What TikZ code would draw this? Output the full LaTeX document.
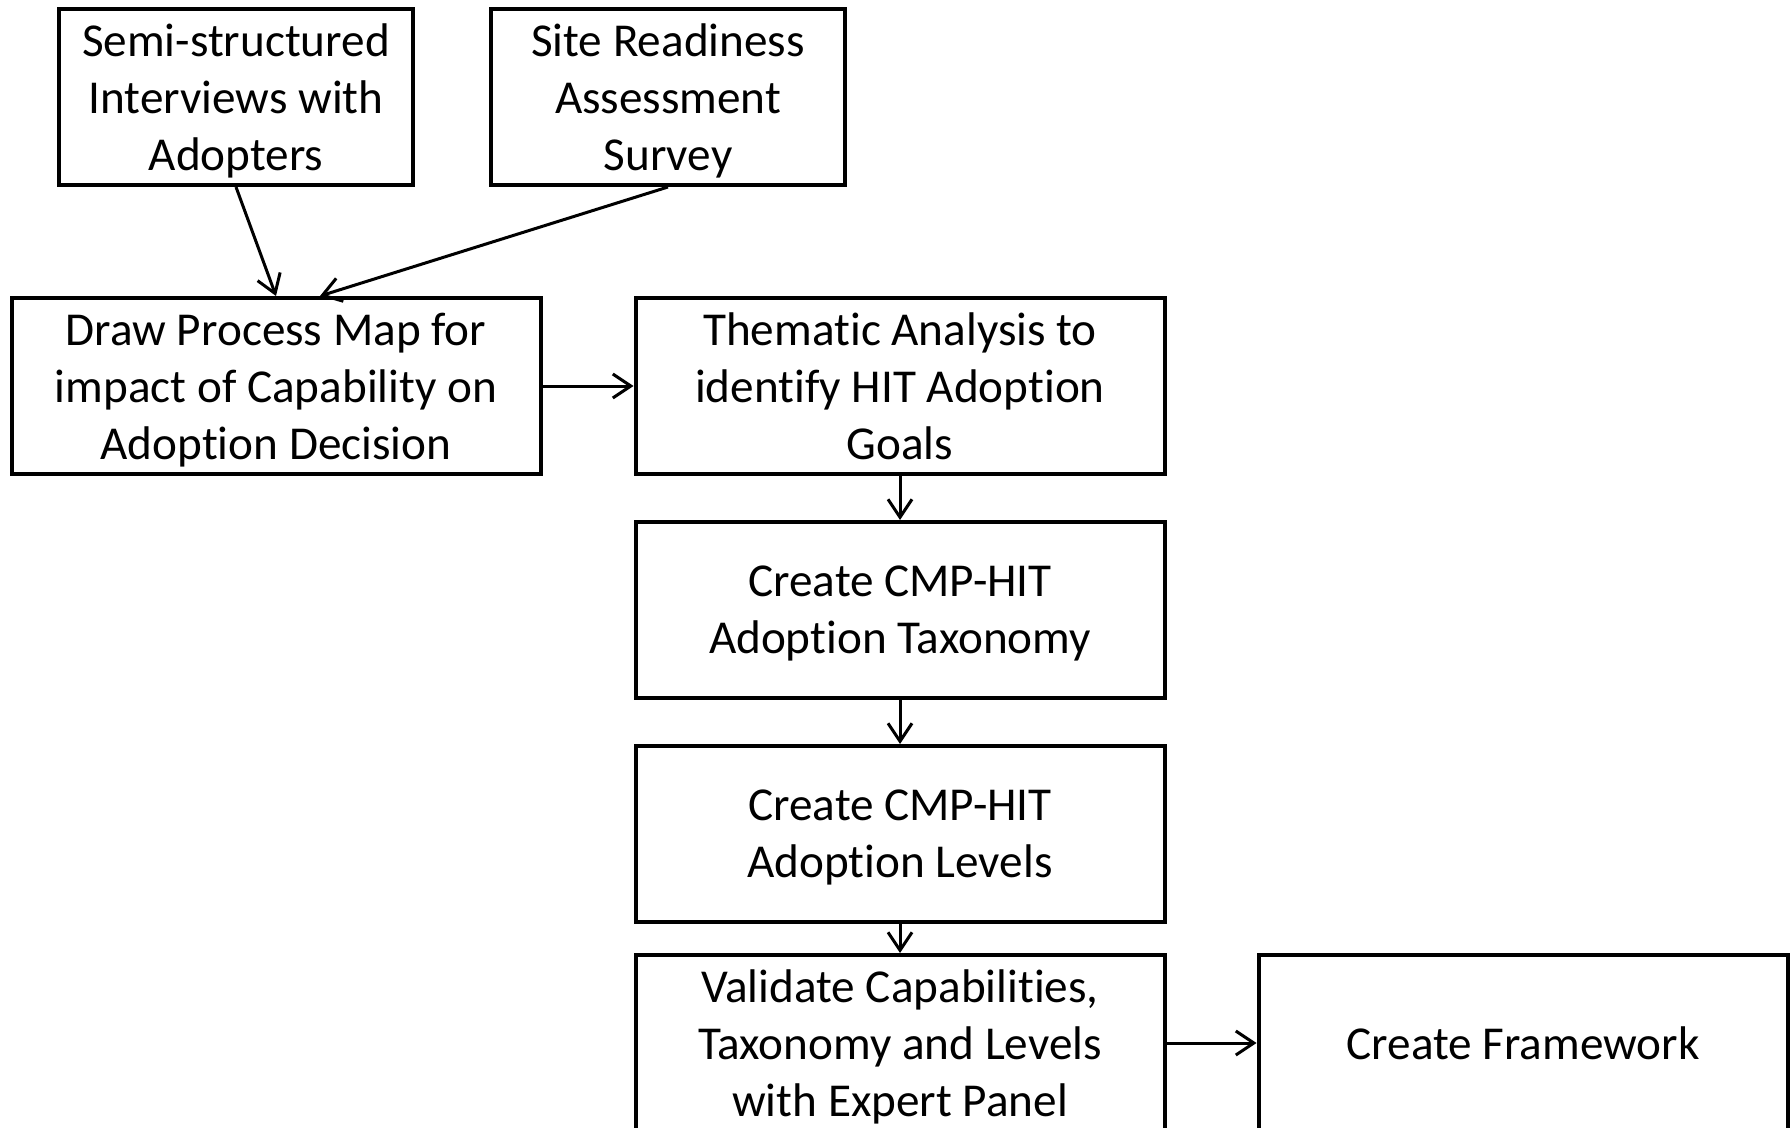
\documentclass[tikz,border=0pt]{standalone}
\usepackage{fontspec}
\setmainfont{Carlito}[Ligatures=NoCommon]
\usetikzlibrary{arrows.meta}
\tikzset{stage/.style={draw=black,line width=2pt,minimum height=88pt,inner sep=0pt,align=center,
  text depth=0pt,font=\fontsize{23.6}{28.5}\selectfont},
 small/.style={stage,minimum width=177pt},
 wide/.style={stage,minimum width=264.5pt},
 arrow/.style={-{Straight Barb[length=9pt,width=12pt,line width=1.5pt]},line width=1.5pt}}

\begin{document}
\begin{tikzpicture}[x=0.5pt,y=-0.5pt]
 \useasboundingbox (0,0) rectangle (1791,1128);
 \node[small] (interviews) at (236,97) {Semi-structured\\Interviews with\\Adopters};
 \node[small] (survey) at (668,97) {Site Readiness\\Assessment\\Survey};
 \node[wide] (processmap) at (276,386) {Draw Process Map for\\impact of Capability on\\Adoption Decision};
 \node[wide] (thematic) at (900,386) {Thematic Analysis to\\identify HIT Adoption\\Goals};
 \node[wide] (taxonomy) at (900,610) {Create CMP-HIT\\Adoption Taxonomy};
 \node[wide] (levels) at (900,834) {Create CMP-HIT\\Adoption Levels};
 \node[wide] (validate) at (900,1043) {Validate Capabilities,\\Taxonomy and Levels\\with Expert Panel};
 \node[wide] (framework) at (1523,1043) {Create Framework};
 \draw[arrow] (interviews.south)--(processmap.north);
 \draw[arrow] (survey.south)--([xshift=22pt]processmap.north);
 \draw[arrow] (processmap)--(thematic);
 \draw[arrow] (thematic)--(taxonomy);
 \draw[arrow] (taxonomy)--(levels);
 \draw[arrow] (levels)--(validate);
 \draw[arrow] (validate)--(framework);
\end{tikzpicture}
\end{document}
